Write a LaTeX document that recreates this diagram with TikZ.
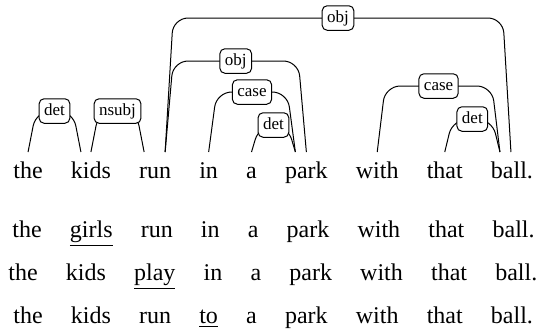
\documentclass[tikz,border=0pt]{standalone}
\usepackage{fontspec}
\setmainfont{Liberation Serif}
\usetikzlibrary{positioning,calc}

\begin{document}
\begin{tikzpicture}[x=0.5pt,y=0.5pt,node distance=13.7pt,
  tok/.style={inner sep=0pt,font=\fontsize{12}{14}\selectfont},
  deplab/.style={draw,fill=white,rounded corners=2.5pt,line width=0.5pt,
    inner xsep=2.5pt,inner ysep=2.25pt,text height=6pt,text depth=1.75pt,
    font=\fontsize{8.5}{10}\selectfont},
  deparc/.style={line width=0.5pt,rounded corners=7.5pt},
  dep/.style={to path={-- ++(8,#1) -- ($(\tikztotarget)+(-8,#1)$) \tikztonodes -- (\tikztotarget)}}]
\useasboundingbox (0,0) rectangle (540,-329);

% parsed sentence
\node[tok,anchor=base west] (t1) at (13,-178) {the};
\node[tok,base right=of t1] (t2) {kids};
\node[tok,base right=of t2] (t3) {run};
\node[tok,base right=of t3] (t4) {in};
\node[tok,base right=of t4] (t5) {a};
\node[tok,base right=of t5] (t6) {park};
\node[tok,base right=of t6] (t7) {with};
\node[tok,base right=of t7] (t8) {that};
\node[tok,base right=of t8] (t9) {ball.};

% feet of the arcs
\coordinate (p1)  at ([shift={(0,26)}]t1.base);
\coordinate (p2a) at ([shift={(-10,26)}]t2.base);
\coordinate (p2b) at ([shift={(0,26)}]t2.base);
\coordinate (p3a) at ([shift={(-11,26)}]t3.base);
\coordinate (p3b) at ([shift={(10,26)}]t3.base);
\coordinate (p4)  at ([shift={(0,26)}]t4.base);
\coordinate (p5)  at ([shift={(0,26)}]t5.base);
\coordinate (p6a) at ([shift={(-11,26)}]t6.base);
\coordinate (p6b) at ([shift={(0,26)}]t6.base);
\coordinate (p7)  at ([shift={(0,26)}]t7.base);
\coordinate (p8)  at ([shift={(0,26)}]t8.base);
\coordinate (p9a) at ([shift={(-12,26)}]t9.base);
\coordinate (p9b) at ([shift={(-1,26)}]t9.base);

% arcs
\draw[deparc] (p1) to[dep=41] node[deplab] (l1) {det} (p2a);
\draw[deparc] (p2b) to[dep=41] node[deplab] (l2) {nsubj} (p3a);
\draw[deparc] (p3b) to[dep=134] node[deplab] (l3) {obj} (p9b);
\draw[deparc] (p3b) to[dep=91] node[deplab] (l4) {obj} (p6b);
\draw[deparc] (p4) to[dep=60] node[deplab] (l5) {case} (p6a);
\draw[deparc] (p5) to[dep=27] node[deplab] (l6) {det} (p6a);
\draw[deparc] (p7) to[dep=66] node[deplab] (l7) {case} (p9a);
\draw[deparc] (p8) to[dep=33] node[deplab] (l8) {det} (p9a);

% variants
\node[tok,anchor=base west] (a1) at (12,-237) {the};
\node[tok,base right=of a1] (a2) {\underline{girls}};
\node[tok,base right=of a2] (a3) {run};
\node[tok,base right=of a3] (a4) {in};
\node[tok,base right=of a4] (a5) {a};
\node[tok,base right=of a5] (a6) {park};
\node[tok,base right=of a6] (a7) {with};
\node[tok,base right=of a7] (a8) {that};
\node[tok,base right=of a8] (a9) {ball.};

\node[tok,anchor=base west] (b1) at (8,-280) {the};
\node[tok,base right=of b1] (b2) {kids};
\node[tok,base right=of b2] (b3) {\underline{play}};
\node[tok,base right=of b3] (b4) {in};
\node[tok,base right=of b4] (b5) {a};
\node[tok,base right=of b5] (b6) {park};
\node[tok,base right=of b6] (b7) {with};
\node[tok,base right=of b7] (b8) {that};
\node[tok,base right=of b8] (b9) {ball.};

\node[tok,anchor=base west] (c1) at (13,-323) {the};
\node[tok,base right=of c1] (c2) {kids};
\node[tok,base right=of c2] (c3) {run};
\node[tok,base right=of c3] (c4) {\underline{to}};
\node[tok,base right=of c4] (c5) {a};
\node[tok,base right=of c5] (c6) {park};
\node[tok,base right=of c6] (c7) {with};
\node[tok,base right=of c7] (c8) {that};
\node[tok,base right=of c8] (c9) {ball.};
\end{tikzpicture}
\end{document}
